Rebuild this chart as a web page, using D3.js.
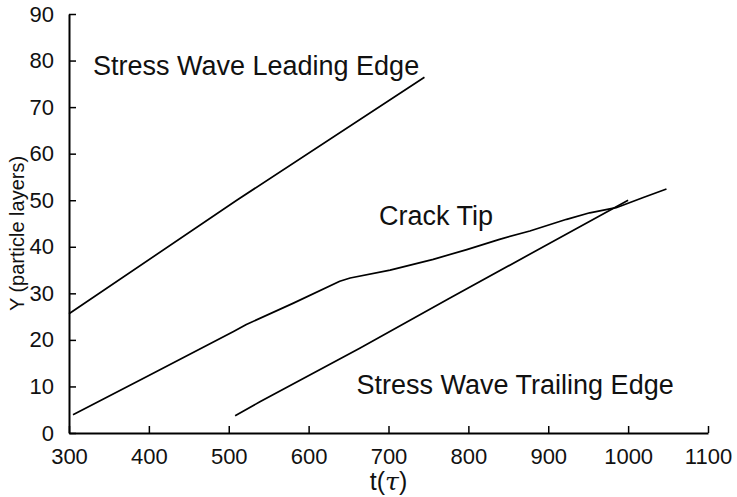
<!DOCTYPE html>
<html>
<head>
<meta charset="utf-8">
<script src="https://cdn.jsdelivr.net/npm/d3@7"></script>
<style>
  html, body { margin: 0; padding: 0; background: #fff; }
  svg { display: block; }
  text { font-family: "Liberation Sans", Arial, sans-serif; fill: #111; }
</style>
</head>
<body>
<svg id="chart" width="737" height="497"></svg>
<script>
// Front positions (time t in tau, Y in particle layers)
const leadingT = [300, 510, 745];
const leadingY = [25.6, 50.0, 76.4];

const crackT = [305, 397, 506, 522, 581, 639, 652, 702, 756, 798, 839, 877, 923, 952, 985, 1019, 1048];
const crackY = [3.9, 12.1, 21.8, 23.3, 27.9, 32.6, 33.3, 35.0, 37.3, 39.4, 41.6, 43.4, 45.9, 47.3, 48.4, 50.6, 52.4];

const trailingT = [508, 539, 664, 777, 1000];
const trailingY = [3.7, 6.7, 18.2, 29.0, 50.0];

const xMajor = [300, 400, 500, 600, 700, 800, 900, 1000, 1100];
const xMinor = [350, 450, 550, 650, 750, 850, 950, 1050];
const yMajor = [0, 10, 20, 30, 40, 50, 60, 70, 80, 90];
const yMinor = [5, 15, 25, 35, 45, 55, 65, 75, 85];

const curveLabels = ["Stress Wave Leading Edge", "Crack Tip", "Stress Wave Trailing Edge"];
const yTitle = "Y (particle layers)";

const svg = d3.select("#chart");
const x = d3.scaleLinear().domain([300, 1100]).range([69, 708]);
const y = d3.scaleLinear().domain([0, 90]).range([433, 14]);

// Axes with inward ticks
const gx = svg.append("g").attr("transform", `translate(0,${y(0)})`);
gx.call(d3.axisBottom(x).tickValues(xMinor).tickSize(-4).tickSizeOuter(0).tickFormat(""));
gx.call(d3.axisBottom(x).tickValues(xMajor).tickSize(-7).tickSizeOuter(0).tickPadding(15).tickFormat(d3.format("d")));

const gy = svg.append("g").attr("transform", `translate(${x(300)},0)`);
gy.call(d3.axisLeft(y).tickValues(yMinor).tickSize(-4).tickSizeOuter(0).tickFormat(""));
gy.call(d3.axisLeft(y).tickValues(yMajor).tickSize(-7).tickSizeOuter(0).tickPadding(15).tickFormat(d3.format("d")));

svg.selectAll(".domain").attr("stroke", "#000").attr("stroke-width", 2);
svg.selectAll(".tick line").attr("stroke", "#000").attr("stroke-width", 1.5);
svg.selectAll(".tick text").attr("font-size", 22).attr("font-family", "Liberation Sans, Arial, sans-serif").attr("fill", "#111");

// Curves
const line = d3.line().x(d => x(d[0])).y(d => y(d[1]));
const series = [
  d3.zip(leadingT, leadingY),
  d3.zip(crackT, crackY),
  d3.zip(trailingT, trailingY)
];
svg.selectAll("path.curve").data(series).join("path")
  .attr("class", "curve")
  .attr("d", line)
  .attr("fill", "none")
  .attr("stroke", "#000")
  .attr("stroke-width", 1.7)
  .attr("stroke-linejoin", "round");

// Curve labels
const labelAt = [[330, 77.0], [688, 44.7], [660, 8.4]];
svg.selectAll("text.curve-label").data(curveLabels).join("text")
  .attr("class", "curve-label")
  .attr("x", (d, i) => x(labelAt[i][0]))
  .attr("y", (d, i) => y(labelAt[i][1]))
  .attr("font-size", 27)
  .text(d => d);

// Axis titles
const xt = svg.append("text")
  .attr("x", x(700)).attr("y", 490)
  .attr("text-anchor", "middle")
  .attr("font-size", 25);
xt.append("tspan").text("t(");
xt.append("tspan").attr("font-style", "italic").attr("font-family", "DejaVu Serif, serif").text("τ");
xt.append("tspan").text(")");

svg.append("text")
  .attr("transform", `translate(24,${y(45) + 10}) rotate(-90)`)
  .attr("text-anchor", "middle")
  .attr("font-size", 20)
  .text(yTitle);
</script>
</body>
</html>
